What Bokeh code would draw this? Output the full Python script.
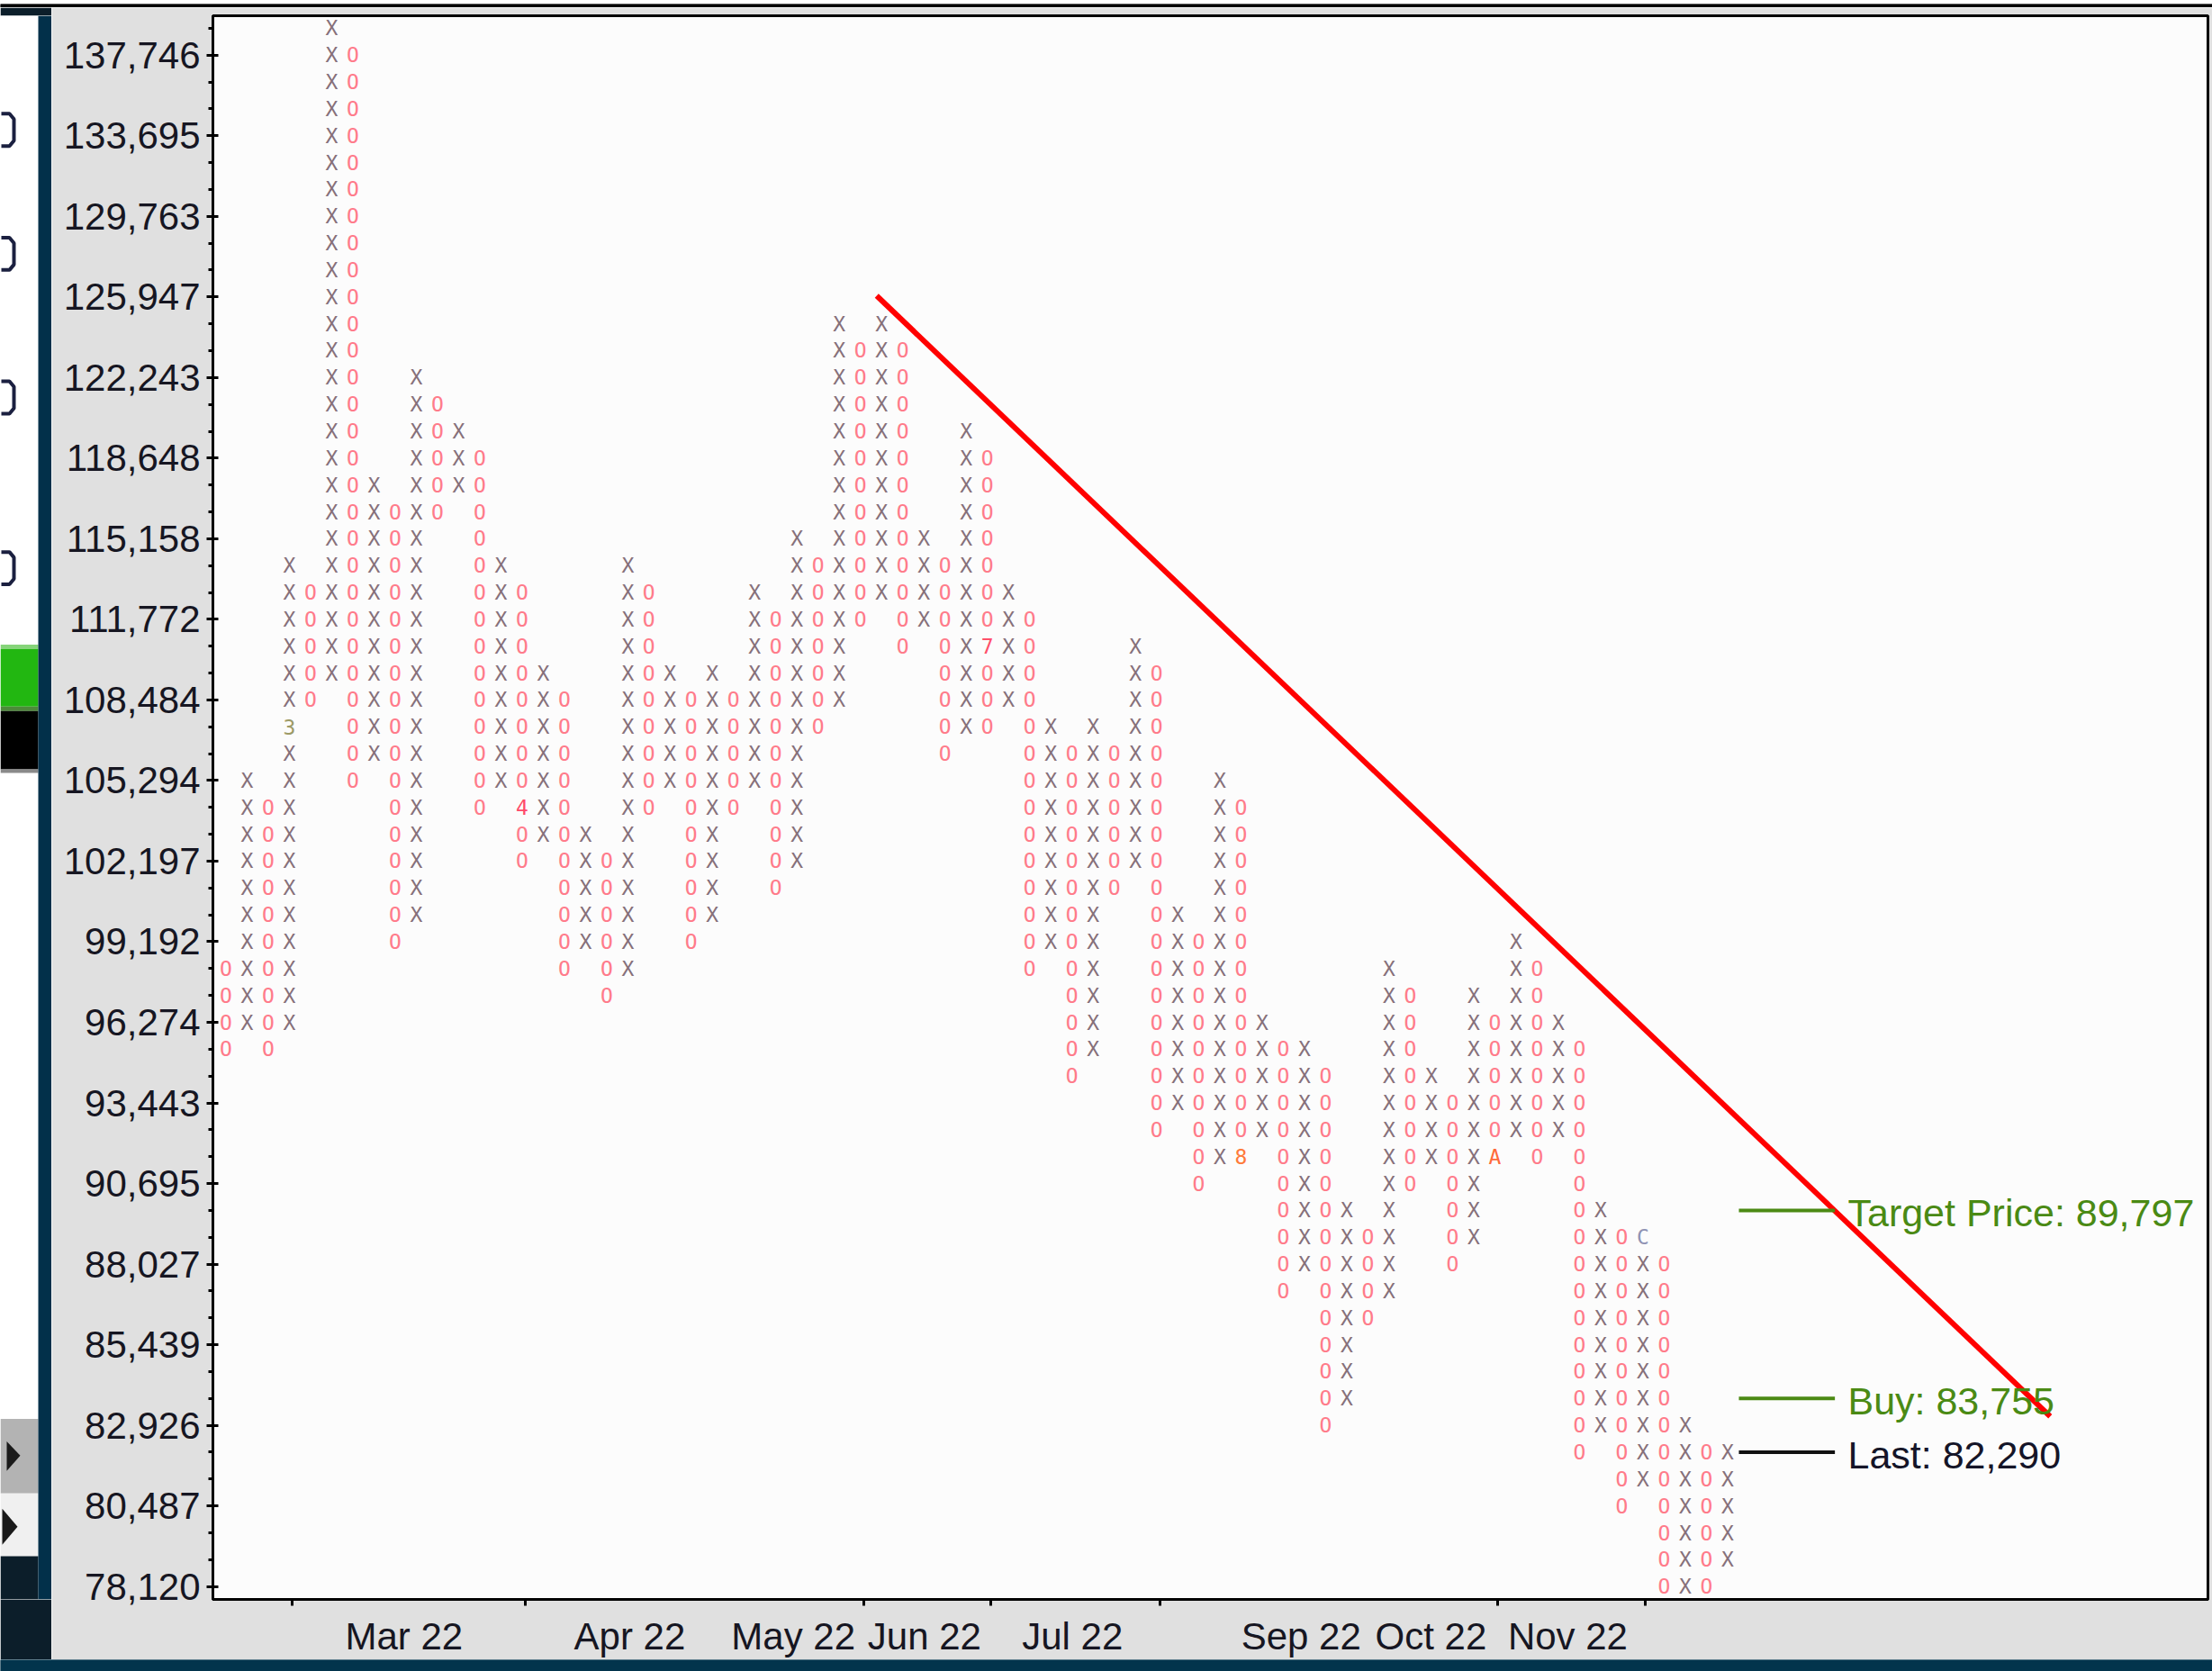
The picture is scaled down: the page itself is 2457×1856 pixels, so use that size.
from bokeh.plotting import figure
from bokeh.models import ColumnDataSource, Range1d, FixedTicker, NumeralTickFormatter
from bokeh.layouts import row, column
from bokeh.core.properties import value
from bokeh.embed import file_html
from bokeh.resources import INLINE

# ---------------- data ----------------
# price of every box (1% box size), box 0 .. box 58
box_prices = [78120, 78901, 79690, 80487, 81292, 82105, 82926, 83755, 84593, 85439,
              86293, 87156, 88027, 88908, 89797, 90695, 91602, 92518, 93443, 94377,
              95321, 96274, 97237, 98209, 99192, 100184, 101185, 102197, 103219, 104251,
              105294, 106347, 107410, 108484, 109569, 110665, 111772, 112889, 114018, 115158,
              116310, 117473, 118648, 119834, 121033, 122243, 123465, 124700, 125947, 127206,
              128479, 129763, 131061, 132372, 133695, 135032, 136383, 137746, 139124]

y_tick_labels = ["78,120", "80,487", "82,926", "85,439", "88,027", "90,695", "93,443",
                 "96,274", "99,192", "102,197", "105,294", "108,484", "111,772", "115,158",
                 "118,648", "122,243", "125,947", "129,763", "133,695", "137,746"]

# point & figure columns (X = rising, O = falling), box numbers of top and bottom
col_kind = list("OXOXOXOXOXOXOXOXOXOXOXOXOXOXOXOXOXOXOXOXOXOXOXOXOXOXOXOXOXOXOXOXOXOXOXOX")
col_top_box = [23, 30, 29, 38, 37, 58, 57, 41, 40, 45,
               44, 43, 42, 38, 37, 34, 33, 28, 27, 38,
               37, 34, 33, 34, 33, 37, 36, 39, 38, 47,
               46, 47, 46, 39, 38, 43, 42, 37, 36, 32,
               31, 32, 31, 35, 34, 25, 24, 30, 29, 21,
               20, 20, 19, 14, 13, 23, 22, 19, 18, 22,
               21, 24, 23, 21, 20, 14, 13, 13, 12, 6,
               5, 5]
col_bottom_box = [20, 21, 20, 21, 33, 34, 30, 31, 24, 25,
                  40, 41, 29, 30, 27, 28, 23, 24, 22, 23,
                  29, 30, 24, 25, 29, 30, 26, 27, 32, 33,
                  36, 37, 35, 36, 31, 32, 32, 33, 23, 24,
                  19, 20, 26, 27, 17, 18, 15, 16, 16, 17,
                  11, 12, 6, 7, 10, 11, 15, 16, 12, 13,
                  16, 17, 16, 17, 5, 6, 3, 4, 0, 0,
                  0, 1]

# month markers written inside the columns
marker_col = [3, 14, 36, 48, 60, 67]
marker_box = [32, 29, 35, 16, 16, 13]
marker_text = ["3", "4", "7", "8", "A", "C"]

# x axis (column positions of month labels and of the tick marks)
month_labels = ["Mar 22", "Apr 22", "May 22", "Jun 22", "Jul 22", "Sep 22", "Oct 22", "Nov 22"]
month_label_col = [8.42, 19.09, 26.83, 33.03, 40.03, 50.84, 56.98, 63.45]
month_tick_col = [3.15, 14.15, 30.15, 36.15, 44.15, 60.15, 67.1]

# trend line
trend_col = [30.77, 86.26]
trend_price = [126000, 83200]

target_price = 89797
buy_price = 83755
last_price = 82290

# ---------------- build marks ----------------
FONT = "Liberation Sans"
MARK_FONT = "DejaVu Sans Mono"
X_COLOR = "#86707a"
O_COLOR = "#ff7b8a"
marker_colors = {"3": "#9c9a66", "4": "#ff4a6a", "7": "#ff4f6a", "8": "#ff7a3a",
                 "A": "#ff6a3a", "C": "#8f93b4"}
special = {(c, b): t for c, b, t in zip(marker_col, marker_box, marker_text)}

mx, my, mt, mc = [], [], [], []
for c, (kind, top, bot) in enumerate(zip(col_kind, col_top_box, col_bottom_box)):
    for b in range(bot, top + 1):
        mx.append(c)
        my.append(box_prices[b])
        if (c, b) in special:
            t = special[(c, b)]
            mt.append(t)
            mc.append(marker_colors[t])
        else:
            mt.append(kind)
            mc.append(X_COLOR if kind == "X" else O_COLOR)
marks = ColumnDataSource(dict(x=mx, y=my, text=mt, color=mc))

# ---------------- main figure ----------------
ratio = box_prices[1] / box_prices[0]
y_lo = box_prices[0] * ratio ** (-0.48)
y_hi = box_prices[0] * ratio ** 58.48

p = figure(width=2400, height=1835,
           x_range=Range1d(-0.617, 93.72), y_range=Range1d(y_lo, y_hi),
           y_axis_type="log", toolbar_location=None, output_backend="svg",
           min_border_left=179, min_border_right=5, min_border_top=9, min_border_bottom=63,
           background_fill_color="#fcfcfc", border_fill_color="#e0e0e0",
           outline_line_color="black", outline_line_width=3)
p.grid.grid_line_color = None

ya = p.yaxis[0]
y_tick_values = box_prices[::3]
ya.ticker = FixedTicker(ticks=y_tick_values, minor_ticks=box_prices)
ya.formatter = NumeralTickFormatter(format="0,0")
ya.major_label_overrides = {v: s for v, s in zip(y_tick_values, y_tick_labels)}
ya.axis_line_width = 3
ya.axis_line_color = "black"
ya.major_tick_line_width = 3
ya.major_tick_line_color = "black"
ya.major_tick_out = 7
ya.major_tick_in = 6
ya.minor_tick_line_width = 3
ya.minor_tick_line_color = "black"
ya.minor_tick_out = 5
ya.minor_tick_in = 0
ya.major_label_standoff = 7
ya.major_label_text_font = FONT
ya.major_label_text_font_size = "42px"
ya.major_label_text_color = "#161622"

xa = p.xaxis[0]
xa.ticker = FixedTicker(ticks=month_label_col, minor_ticks=month_tick_col)
xa.major_label_overrides = {v: s for v, s in zip(month_label_col, month_labels)}
xa.axis_line_width = 3
xa.axis_line_color = "black"
xa.major_tick_line_color = None
xa.major_tick_out = 0
xa.major_tick_in = 0
xa.minor_tick_line_width = 3
xa.minor_tick_line_color = "black"
xa.minor_tick_out = 7
xa.minor_tick_in = 0
xa.major_label_standoff = 10
xa.major_label_text_font = FONT
xa.major_label_text_font_size = "42px"
xa.major_label_text_color = "#161622"

p.text(x="x", y="y", text="text", text_color="color", source=marks,
       text_font=value(MARK_FONT), text_font_size="23px",
       text_align="center", text_baseline="middle")

p.line(x=trend_col, y=trend_price, line_color="#ff0000", line_width=6)

last_col = len(col_kind) - 1
last_box_price = max(b for b in box_prices if b <= last_price)
lvl_y = [target_price, buy_price, last_box_price]
lvl_color = ["#4c8a14", "#4c8a14", "#111111"]
lvl_text = ["Target Price: {:,}".format(target_price), "Buy: {:,}".format(buy_price),
            "Last: {:,}".format(last_price)]
lvl_txt_color = ["#4a8a14", "#4a8a14", "#151528"]
p.segment(x0=[last_col + 0.54] * 3, x1=[last_col + 5.08] * 3, y0=lvl_y, y1=lvl_y,
          line_color=lvl_color, line_width=4)
p.text(x=[last_col + 5.69] * 3, y=lvl_y, text=lvl_text, text_color=lvl_txt_color,
       text_font=value(FONT), text_font_size="43px", text_align="left",
       text_baseline="middle", y_offset=3)

# ---------------- left strip (neighbouring panel) ----------------
# its frame is aligned with the main frame (page y 17 .. 1780), so data y = page y
lp = figure(width=57, height=1835, x_range=Range1d(0, 57), y_range=Range1d(1780, 17),
            toolbar_location=None, output_backend="svg", min_border=0,
            x_axis_location=None, y_axis_location=None, outline_line_color=None,
            background_fill_color="#ffffff", border_fill_color="#0c1e2a")
lp.grid.grid_line_color = None
lp.quad(left=[0, 0, 0, 0, 0, 0, 0, 0, 0, 42],
        right=[42, 42, 42, 42, 42, 42, 42, 42, 42, 57],
        top=[17, 717, 722, 786, 791, 856, 1579, 1662, 1732, 17],
        bottom=[17, 722, 786, 791, 856, 860, 1662, 1732, 1780, 1780],
        fill_color=["#ffffff", "#86d47a", "#22b711", "#4d8a3a", "#000000", "#8a8a8a",
                    "#b3b3b3", "#f0f0f0", "#0c1e2a", "#02304a"],
        line_color=None)
lp.patches(xs=[[7, 22, 7], [2, 19, 2]], ys=[[1604, 1620, 1637], [1679, 1699, 1719]],
           fill_color="#1a1a1a", line_color=None)
# fragments of the neighbouring panel's labels (cut at the window edge)
frag_y = [144, 282, 442, 632]
lp.multi_line(xs=[[1, 10, 15, 15, 10, 1] for _ in frag_y],
              ys=[[y - 18, y - 18, y - 12, y + 12, y + 18, y + 18] for y in frag_y],
              line_color="#1b2040", line_width=4)

# ---------------- top and bottom strips ----------------
tp = figure(width=2457, height=8, x_range=Range1d(0, 2457), y_range=Range1d(0, 8),
            toolbar_location=None, output_backend="svg", min_border=0,
            x_axis_location=None, y_axis_location=None, outline_line_color=None,
            background_fill_color="#000000", border_fill_color="#000000")
tp.grid.grid_line_color = None
tp.quad(left=[0], right=[2457], top=[8], bottom=[0], fill_color="#000000", line_color=None)

bp = figure(width=2457, height=13, x_range=Range1d(0, 2457), y_range=Range1d(0, 13),
            toolbar_location=None, output_backend="svg", min_border=0,
            x_axis_location=None, y_axis_location=None, outline_line_color=None,
            background_fill_color="#02344c", border_fill_color="#02344c")
bp.grid.grid_line_color = None
bp.quad(left=[0], right=[2457], top=[13], bottom=[0], fill_color="#02344c", line_color=None)

layout = column(tp, row(lp, p), bp)
open("out.html", "w").write(file_html(layout, INLINE))
